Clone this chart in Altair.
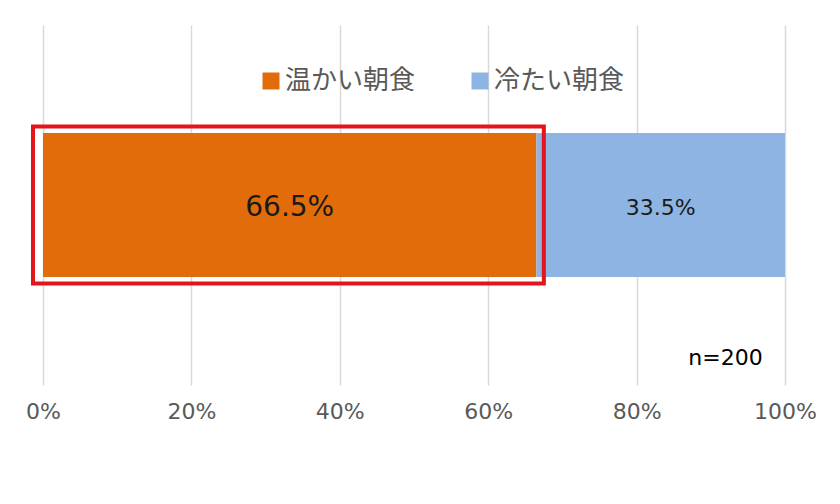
import altair as alt
import pandas as pd

# ---- data ----
row_name = ["全体"]
categories = ["温かい朝食", "冷たい朝食"]
values = [66.5, 33.5]
value_labels = ["66.5%", "33.5%"]
colors = ["#E36C0A", "#8DB4E2"]
tick_values = [0, 0.2, 0.4, 0.6, 0.8, 1.0]
note_text = ["n=200"]
note_x = [0.97]
highlight_range = [-1.35, 67.5]  # percent extent of the red highlight box

starts = [0.0]
for v in values[:-1]:
    starts.append(starts[-1] + v)
ends = [s + v for s, v in zip(starts, values)]

bars = pd.DataFrame({
    "row": row_name * len(categories),
    "cat": categories,
    "start": [s / 100 for s in starts],
    "end": [e / 100 for e in ends],
    "mid": [(s + e) / 200 for s, e in zip(starts, ends)],
    "label": value_labels,
})
box = pd.DataFrame({"row": row_name, "x1": [highlight_range[0] / 100], "x2": [highlight_range[1] / 100]})
note = pd.DataFrame({"x": note_x, "text": note_text})

xscale = alt.Scale(domain=[0, 1], nice=False)
yscale = alt.Scale(paddingInner=0.6, paddingOuter=0.3)

base = alt.Chart(bars)

bar = base.mark_bar().encode(
    x=alt.X("start:Q", scale=xscale,
            axis=alt.Axis(values=tick_values, format=".0%", grid=True, gridColor="#d9d9d9",
                          gridWidth=1.5, domain=False, ticks=False, labelFontSize=22,
                          labelColor="#595959", labelFont="DejaVu Sans", labelPadding=16,
                          labelFlush=False, title=None)),
    x2="end:Q",
    y=alt.Y("row:N", scale=yscale, axis=None),
    color=alt.Color("cat:N", scale=alt.Scale(domain=categories, range=colors),
                    legend=alt.Legend(orient="none", legendX=215, legendY=43, direction="horizontal",
                                      symbolType="square", symbolSize=289, symbolStrokeWidth=0,
                                      labelFontSize=26, labelFont="Noto Sans CJK JP",
                                      labelColor="#595959", columnPadding=51, labelOffset=1,
                                      padding=0, title=None)),
)

txt_big = base.transform_filter(alt.datum.cat == categories[0]).mark_text(
    font="DejaVu Sans", fontSize=28, color="#1a1a1a", baseline="middle", align="center", dy=3
).encode(x="mid:Q", y=alt.Y("row:N", scale=yscale), text="label:N")

txt_small = base.transform_filter(alt.datum.cat == categories[1]).mark_text(
    font="DejaVu Sans", fontSize=22, color="#1a1a1a", baseline="middle", align="center", dy=3
).encode(x="mid:Q", y=alt.Y("row:N", scale=yscale), text="label:N")

hl = alt.Chart(box).mark_bar(filled=False, stroke="#E3141B", strokeWidth=4, size=157).encode(
    x="x1:Q", x2="x2:Q", y=alt.Y("row:N", scale=yscale)
)

nt = alt.Chart(note).mark_text(
    font="DejaVu Sans", fontSize=22, color="#000000", align="right", baseline="middle"
).encode(x="x:Q", y=alt.value(333), text="text:N")

chart = alt.layer(bar, txt_big, txt_small, hl, nt).properties(
    width=742, height=360,
    autosize=alt.AutoSizeParams(type="none"),
    padding={"left": 35, "top": 17, "right": 47, "bottom": 111},
).configure_view(strokeWidth=0)

chart.save("out.html", embed_options={"renderer": "svg", "actions": False})
